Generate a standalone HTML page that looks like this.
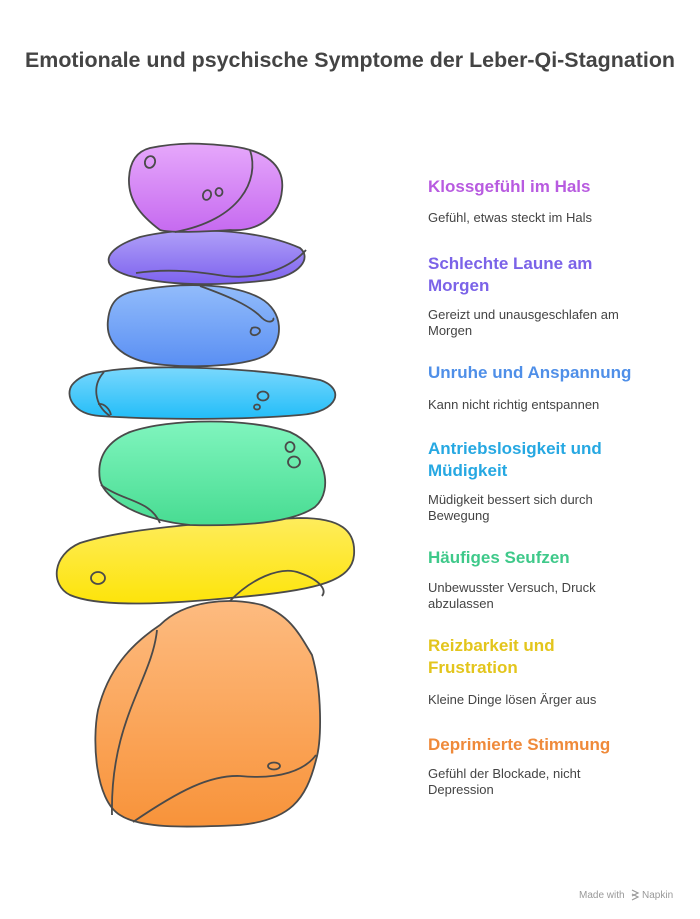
<!DOCTYPE html>
<html><head><meta charset="utf-8"><style>
html,body{margin:0;padding:0;background:#fff}
svg{display:block}
text{font-family:"Liberation Sans",sans-serif}
.h{font-size:17px;font-weight:bold}
.d{font-size:13px;fill:#444}
</style></head><body>
<svg width="700" height="919" viewBox="0 0 700 919" xmlns="http://www.w3.org/2000/svg">
<defs>
<linearGradient id="g1" x1="0" y1="0" x2="0" y2="1"><stop offset="0" stop-color="#e6a8fb"/><stop offset="1" stop-color="#c66af0"/></linearGradient>
<linearGradient id="g2" x1="0" y1="0" x2="0" y2="1"><stop offset="0" stop-color="#b0a0f8"/><stop offset="1" stop-color="#7d62ee"/></linearGradient>
<linearGradient id="g3" x1="0" y1="0" x2="0" y2="1"><stop offset="0" stop-color="#92bcfb"/><stop offset="1" stop-color="#5a8ff3"/></linearGradient>
<linearGradient id="g4" x1="0" y1="0" x2="0" y2="1"><stop offset="0" stop-color="#7ad8fd"/><stop offset="1" stop-color="#22bdf8"/></linearGradient>
<linearGradient id="g5" x1="0" y1="0" x2="0" y2="1"><stop offset="0" stop-color="#80f5be"/><stop offset="1" stop-color="#48dc92"/></linearGradient>
<linearGradient id="g6" x1="0" y1="0" x2="0" y2="1"><stop offset="0" stop-color="#feec5c"/><stop offset="1" stop-color="#fde40a"/></linearGradient>
<linearGradient id="g7" x1="0" y1="0" x2="0" y2="1"><stop offset="0" stop-color="#fdbb80"/><stop offset="1" stop-color="#f8933a"/></linearGradient>
</defs>
<text x="350" y="67" text-anchor="middle" font-size="21" font-weight="bold" fill="#444" textLength="650" lengthAdjust="spacingAndGlyphs">Emotionale und psychische Symptome der Leber-Qi-Stagnation</text>

<g stroke="#4a4a4a" stroke-width="1.8" fill="none">
<path d="M160 625 C185 600 230 597 262 605 C290 615 300 635 312 655 C322 690 322 740 316 760 C306 800 290 820 240 825 C180 828 140 828 120 815 C95 800 92 740 98 710 C108 670 130 645 160 625 Z" fill="url(#g7)"/>
<path d="M157 630 C152 680 110 720 112 815"/>
<path d="M133 822 C180 790 210 775 240 776 C280 780 305 770 316 755"/>
<ellipse cx="274" cy="766" rx="6" ry="3.5"/>
<path d="M80 543 C120 530 200 522 300 518 C340 518 356 530 354 555 C352 580 320 590 240 597 C170 604 100 608 70 595 C50 585 52 555 80 543 Z" fill="url(#g6)"/>
<path d="M230 601 C250 580 280 565 300 573 C320 580 327 590 322 596"/>
<ellipse cx="98" cy="578" rx="7" ry="6"/>
<path d="M130 432 C170 418 250 418 290 432 C325 448 335 490 315 507 C290 525 230 526 190 525 C140 520 105 500 100 480 C96 455 110 440 130 432 Z" fill="url(#g5)"/>
<path d="M101 485 C125 502 150 500 160 523"/>
<ellipse cx="290" cy="447" rx="4.5" ry="5"/>
<ellipse cx="294" cy="462" rx="6" ry="5.5"/>
<path d="M100 372 C150 363 260 368 320 380 C345 388 340 412 300 415 C240 420 160 420 100 416 C72 414 65 395 72 385 C80 375 92 373 100 372 Z" fill="url(#g4)"/>
<path d="M104 372 C92 385 94 405 110 416"/>
<path d="M98 404 C105 403 110 410 111 415"/>
<ellipse cx="263" cy="396" rx="5.5" ry="4.5"/>
<ellipse cx="257" cy="407" rx="3" ry="2.5"/>
<path d="M140 290 C180 283 230 282 260 298 C285 312 282 340 270 352 C255 366 200 368 165 365 C125 362 105 345 108 320 C110 300 120 293 140 290 Z" fill="url(#g3)"/>
<path d="M200 286 C225 295 250 305 262 318 C270 325 275 320 273 318"/>
<path d="M252 328 C258 326 262 330 259 333 C255 337 249 335 251 330 Z"/>
<path d="M140 237 C190 225 260 230 300 248 C312 258 300 275 270 280 C220 286 170 286 130 276 C100 268 100 250 140 237 Z" fill="url(#g2)"/>
<path d="M136 273 C170 268 200 272 225 276 C260 280 290 268 306 250"/>
<path d="M150 148 C180 142 200 143 230 146 C265 150 285 165 282 190 C280 215 260 232 230 230 C200 232 170 233 160 230 C140 215 128 200 129 178 C130 160 138 151 150 148 Z" fill="url(#g1)"/>
<path d="M250 150 C260 180 240 220 175 232"/>
<ellipse cx="150" cy="162" rx="5" ry="6" transform="rotate(20 150 162)"/>
<ellipse cx="207" cy="195" rx="4" ry="5" transform="rotate(20 207 195)"/>
<ellipse cx="219" cy="192" rx="3.5" ry="4"/>
</g>

<text class="h" x="428" y="192" fill="#b85be0">Klossgefühl im Hals</text>
<text class="d" x="428" y="222">Gefühl, etwas steckt im Hals</text>
<text class="h" x="428" y="269" fill="#7b63e8">Schlechte Laune am</text>
<text class="h" x="428" y="291" fill="#7b63e8">Morgen</text>
<text class="d" x="428" y="319">Gereizt und unausgeschlafen am</text>
<text class="d" x="428" y="335">Morgen</text>
<text class="h" x="428" y="378" fill="#4f8fe8">Unruhe und Anspannung</text>
<text class="d" x="428" y="409">Kann nicht richtig entspannen</text>
<text class="h" x="428" y="454" fill="#26a8e2">Antriebslosigkeit und</text>
<text class="h" x="428" y="476" fill="#26a8e2">Müdigkeit</text>
<text class="d" x="428" y="504">Müdigkeit bessert sich durch</text>
<text class="d" x="428" y="520">Bewegung</text>
<text class="h" x="428" y="563" fill="#3fc98a">Häufiges Seufzen</text>
<text class="d" x="428" y="592">Unbewusster Versuch, Druck</text>
<text class="d" x="428" y="608">abzulassen</text>
<text class="h" x="428" y="651" fill="#e3c51c">Reizbarkeit und</text>
<text class="h" x="428" y="673" fill="#e3c51c">Frustration</text>
<text class="d" x="428" y="704">Kleine Dinge lösen Ärger aus</text>
<text class="h" x="428" y="750" fill="#ef8a3a">Deprimierte Stimmung</text>
<text class="d" x="428" y="778">Gefühl der Blockade, nicht</text>
<text class="d" x="428" y="794">Depression</text>

<text x="579" y="898" font-size="10" fill="#999">Made with</text>
<path d="M632 890 l6 3 l-6 3 M632 894 l6 3 l-6 3" stroke="#999" stroke-width="1.2" fill="none"/>
<text x="642" y="898" font-size="10" fill="#999">Napkin</text>
</svg>
</body></html>
